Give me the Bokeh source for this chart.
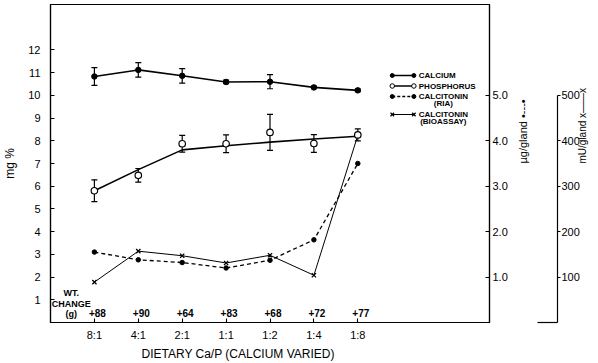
import math
from bokeh.plotting import figure
from bokeh.models import (Range1d, LinearAxis, FixedTicker, Label, Title, ColumnDataSource,
                          NumeralTickFormatter)
from bokeh.core.properties import value
from bokeh.embed import file_html
from bokeh.resources import INLINE

# ---- data ----
ratios = ["8:1", "4:1", "2:1", "1:1", "1:2", "1:4", "1:8"]
wt_change = ["+88", "+90", "+64", "+83", "+68", "+72", "+77"]
calcium = [10.83, 11.12, 10.86, 10.59, 10.6, 10.35, 10.22]          # mg %
calcium_err = [0.39, 0.32, 0.32, 0.08, 0.31, 0.06, 0.06]
phosphorus = [5.8, 6.48, 7.87, 7.87, 8.37, 7.88, 8.26]              # mg %
phosphorus_err = [0.48, 0.3, 0.37, 0.39, 0.79, 0.39, 0.26]
phosphorus_trend = [5.8, 6.73, 7.6, 7.78, 7.94, 8.08, 8.2]          # mg %
calcitonin_ria = [1.55, 1.38, 1.32, 1.2, 1.37, 1.82, 3.5]            # ug/gland
calcitonin_bioassay = [89, 157, 147, 131, 148, 104, 412]            # mU/gland

FONT = "Liberation Sans"
INK = "black"
x_idx = list(range(len(ratios)))

src = ColumnDataSource(dict(
    x=x_idx,
    ca=calcium,
    ca_lo=[m - e for m, e in zip(calcium, calcium_err)],
    ca_hi=[m + e for m, e in zip(calcium, calcium_err)],
    p=phosphorus,
    p_lo=[m - e for m, e in zip(phosphorus, phosphorus_err)],
    p_hi=[m + e for m, e in zip(phosphorus, phosphorus_err)],
    p_trend=phosphorus_trend,
    ria=calcitonin_ria,
    bio=calcitonin_bioassay,
    wt=wt_change,
))

p = figure(width=598, height=363, x_range=Range1d(-1, 9), y_range=Range1d(0, 14),
           output_backend="svg", toolbar_location=None,
           min_border_left=42, min_border_right=109, min_border_top=4, min_border_bottom=41)
p.extra_y_ranges = {"ug": Range1d(0, 7), "mu": Range1d(0, 700)}
p.grid.visible = False
p.outline_line_color = INK
p.outline_line_width = 1.2
p.background_fill_color = "white"
p.border_fill_color = "white"


def style_axis(ax):
    ax.major_label_text_font = FONT
    ax.major_label_text_font_size = "11px"
    ax.major_label_text_color = INK
    ax.axis_label_text_font = FONT
    ax.axis_label_text_font_style = "normal"
    ax.axis_label_text_color = INK
    ax.axis_line_color = INK
    ax.axis_line_width = 1.2
    ax.major_tick_line_color = INK
    ax.major_tick_line_width = 1.1
    ax.minor_tick_line_color = None


def lx(px):   # screen x (frame 42..489) -> data x
    return -1 + (px - 42) * 10.0 / 447.0


def ly(py):   # screen y (frame 4..322) -> mg %
    return (322 - py) * 14.0 / 318.0


# left axis
ya = p.yaxis[0]
style_axis(ya)
ya.ticker = FixedTicker(ticks=list(range(1, 13)))
ya.major_tick_in = 4
ya.major_tick_out = 0
ya.major_label_standoff = 10
ya.axis_label = "mg %"
ya.axis_label_standoff = 8
ya.axis_label_text_font_size = "12px"

# bottom axis
xa = p.xaxis[0]
style_axis(xa)
xa.ticker = FixedTicker(ticks=x_idx)
xa.major_label_overrides = {i: r for i, r in enumerate(ratios)}
xa.major_tick_in = 4
xa.major_tick_out = 0
xa.major_label_standoff = 6

# right axis: ug/gland
ax_ug = LinearAxis(y_range_name="ug", ticker=FixedTicker(ticks=[1, 2, 3, 4, 5]),
                   formatter=NumeralTickFormatter(format="0.0"))
style_axis(ax_ug)
ax_ug.major_tick_in = 4
ax_ug.major_tick_out = 0
ax_ug.major_label_standoff = 3
ax_ug.axis_label = "\u00b5g/gland \u2022---\u2022"
ax_ug.axis_label_standoff = 12
ax_ug.axis_label_text_font_size = "11px"
p.add_layout(ax_ug, "right")

# spacer between the two right axes (its tick at 0 continues the base line)
spacer = LinearAxis(y_range_name="ug", ticker=FixedTicker(ticks=[0]))
spacer.axis_line_color = None
spacer.major_tick_line_color = INK
spacer.major_tick_line_width = 1.2
spacer.major_tick_in = 0
spacer.major_tick_out = 20
spacer.major_label_overrides = {0: ""}
spacer.major_label_text_font_size = "1px"
spacer.major_label_standoff = 0
spacer.minor_tick_line_color = None
p.add_layout(spacer, "right")

# right axis: mU/gland
ax_mu = LinearAxis(y_range_name="mu", ticker=FixedTicker(ticks=[100, 200, 300, 400, 500]),
                   bounds=(0, 500))
style_axis(ax_mu)
ax_mu.major_tick_in = 0
ax_mu.major_tick_out = 3
ax_mu.major_label_standoff = 1
ax_mu.axis_label = "mU/gland x\u2014\u2014x"
ax_mu.axis_label_standoff = 0
ax_mu.axis_label_text_font_size = "10px"
p.add_layout(ax_mu, "right")

# both right-axis titles read from bottom to top
if "axis_label_orientation" in ax_ug.properties():
    ax_ug.axis_label_orientation = math.pi / 2
    ax_mu.axis_label_orientation = math.pi / 2

# x-axis title
p.add_layout(Title(text="DIETARY Ca/P (CALCIUM VARIED)", align="left", offset=91,
                   text_font=FONT, text_font_size="12px", text_font_style="normal",
                   text_color=INK, standoff=2), "below")

# ---- series ----
# calcitonin (RIA), ug/gland, dashed
p.line("x", "ria", source=src, y_range_name="ug", line_color=INK, line_width=1.3, line_dash="4 3")
p.scatter("x", "ria", source=src, y_range_name="ug", marker="circle", size=4.5,
          fill_color=INK, line_color=INK)
# calcitonin (bioassay), mU/gland
p.line("x", "bio", source=src, y_range_name="mu", line_color=INK, line_width=1.0)
p.scatter("x", "bio", source=src, y_range_name="mu", marker="x", size=6,
          line_color=INK, line_width=1.3)

# calcium
p.line("x", "ca", source=src, line_color=INK, line_width=1.6)
p.segment("x", "ca_lo", "x", "ca_hi", source=src, line_color=INK, line_width=1.2)
p.scatter("x", "ca_lo", source=src, marker="dash", size=6, line_color=INK, line_width=1.2)
p.scatter("x", "ca_hi", source=src, marker="dash", size=6, line_color=INK, line_width=1.2)
p.scatter("x", "ca", source=src, marker="circle", size=5.5, fill_color=INK, line_color=INK)

# phosphorus
p.line("x", "p_trend", source=src, line_color=INK, line_width=1.6)
p.segment("x", "p_lo", "x", "p_hi", source=src, line_color=INK, line_width=1.2)
p.scatter("x", "p_lo", source=src, marker="dash", size=6, line_color=INK, line_width=1.2)
p.scatter("x", "p_hi", source=src, marker="dash", size=6, line_color=INK, line_width=1.2)
p.scatter("x", "p", source=src, marker="circle", size=6.5, fill_color="white", line_color=INK,
          line_width=1.2)

# weight change row
p.text("x", 0.4, text="wt", source=src, x_offset=3, text_align="center", text_baseline="middle",
       text_font=value(FONT), text_font_size="10px", text_font_style="bold", text_color=INK)
for txt, yy in (("WT.", 1.3), ("CHANGE", 0.8), ("(g)", 0.38)):
    p.add_layout(Label(x=-0.53, y=yy, text=txt, text_align="center", text_baseline="middle",
                       text_font=FONT, text_font_size="9px", text_font_style="bold",
                       text_color=INK))

# ---- legend (drawn by hand, positions in data units) ----
x0, x1, xt = lx(390), lx(412), lx(417)
rows = [
    (75, "CALCIUM", "solid", "filled"),
    (85.5, "PHOSPHORUS", "solid", "open"),
    (96, "CALCITONIN", "dashed", "filled"),
    (114, "CALCITONIN", "thin", "x"),
]
for py, txt, style, mk in rows:
    yv = ly(py)
    dash = "3 2" if style == "dashed" else "solid"
    lw = 1.0 if style == "thin" else 1.3
    p.segment(x0, yv, x1, yv, line_color=INK, line_width=lw, line_dash=dash)
    if mk == "filled":
        p.scatter([x0, x1], [yv, yv], marker="circle", size=4, fill_color=INK, line_color=INK)
    elif mk == "open":
        p.scatter([x0, x1], [yv, yv], marker="circle", size=4.5, fill_color="white", line_color=INK)
    else:
        p.scatter([x0, x1], [yv, yv], marker="x", size=5, line_color=INK, line_width=1.2)
    p.add_layout(Label(x=xt, y=yv, text=txt, text_align="left", text_baseline="middle",
                       text_font=FONT, text_font_size="8px", text_font_style="bold",
                       text_color=INK))
for py, txt in ((103, "(RIA)"), (121, "(BIOASSAY)")):
    p.add_layout(Label(x=lx(442), y=ly(py), text=txt, text_align="center", text_baseline="middle",
                       text_font=FONT, text_font_size="8px", text_font_style="bold",
                       text_color=INK))

open("out.html", "w").write(file_html(p, INLINE))
